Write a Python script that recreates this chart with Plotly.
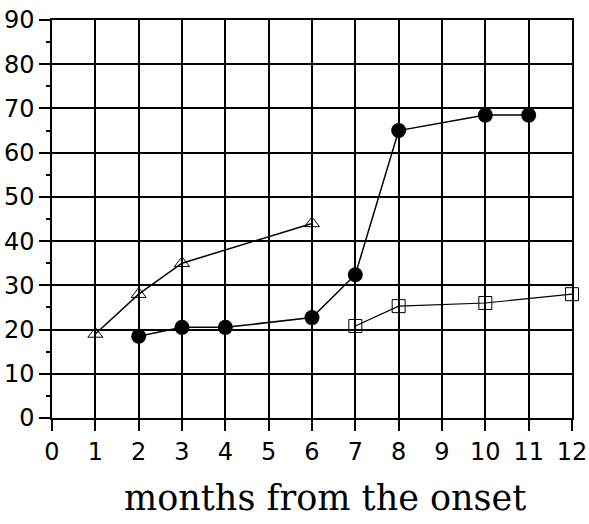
import plotly.graph_objects as go

tri_x = [1, 2, 3, 6]
tri_y = [19, 28, 35, 44]
circ_x = [2, 3, 4, 6, 7, 8, 10, 11]
circ_y = [18.5, 20.5, 20.5, 22.7, 32.4, 65, 68.5, 68.5]
sq_x = [7, 8, 10, 12]
sq_y = [20.8, 25.3, 26, 28]
x_ticks = list(range(0, 13))
y_ticks = list(range(0, 91, 10))
x_title = "months from the onset"

fig = go.Figure()
fig.add_trace(go.Scatter(x=tri_x, y=tri_y, mode="lines+markers",
                         line=dict(color="black", width=1.5),
                         marker=dict(symbol="triangle-up-open", size=13, color="black",
                                     line=dict(width=1)),
                         cliponaxis=False))
fig.add_trace(go.Scatter(x=circ_x, y=circ_y, mode="lines+markers",
                         line=dict(color="black", width=1.5),
                         marker=dict(symbol="circle", size=15, color="black"),
                         cliponaxis=False))
fig.add_trace(go.Scatter(x=sq_x, y=sq_y, mode="lines+markers",
                         line=dict(color="black", width=1.2),
                         marker=dict(symbol="square-open", size=13, color="black",
                                     line=dict(width=1)),
                         cliponaxis=False))

fig.update_layout(
    width=589, height=524,
    margin=dict(l=52, r=17, t=20, b=106, autoexpand=False),
    paper_bgcolor="white", plot_bgcolor="white",
    showlegend=False,
    font=dict(family="DejaVu Sans", color="black", size=24),
    annotations=[dict(text=x_title, xref="paper", yref="paper",
                      x=0.525, y=-0.2, xanchor="center", yanchor="middle",
                      showarrow=False,
                      font=dict(family="DejaVu Serif", size=35, color="black"))],
)
fig.update_xaxes(range=[0, 12], tickvals=x_ticks, ticktext=[str(v) for v in x_ticks],
                 showgrid=True, gridcolor="black", gridwidth=1.5,
                 showline=True, linecolor="black", linewidth=1.5, mirror=True,
                 ticks="outside", ticklen=11, tickcolor="black", tickwidth=1.5,
                 zeroline=False, automargin=False)
fig.update_yaxes(range=[0, 90], tickvals=y_ticks, ticktext=[str(v) for v in y_ticks],
                 showgrid=True, gridcolor="black", gridwidth=1.5,
                 showline=True, linecolor="black", linewidth=1.5, mirror=True,
                 ticks="outside", ticklen=11, tickcolor="black", tickwidth=1.5,
                 zeroline=False, automargin=False,
                 minor=dict(dtick=5, tick0=0, ticks="outside", ticklen=4,
                            tickcolor="black", showgrid=False))

fig.write_html("out.html")
